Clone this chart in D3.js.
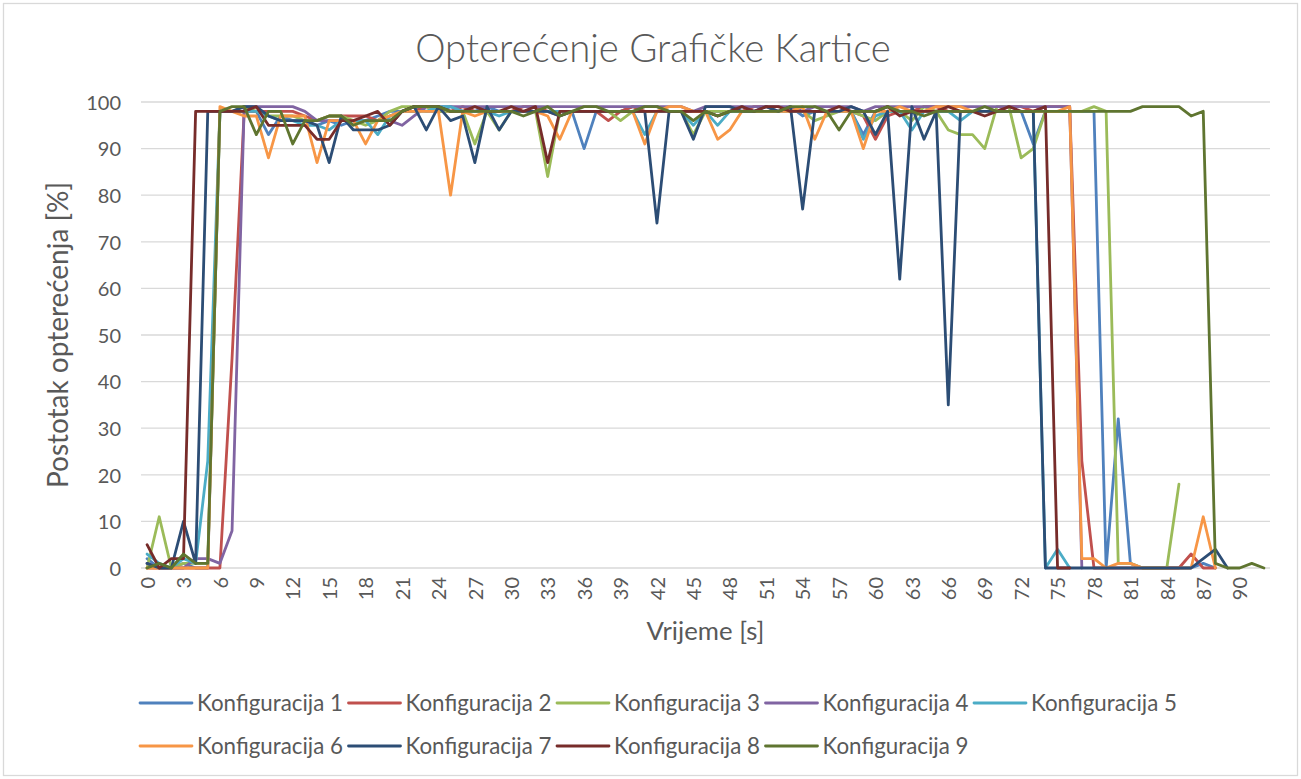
<!DOCTYPE html>
<html>
<head>
<meta charset="utf-8">
<script src="https://cdn.jsdelivr.net/npm/d3@7"></script>
<style>
  html, body { margin: 0; padding: 0; background: #ffffff; }
  svg { display: block; }
  text { font-family: Lato, "Open Sans", sans-serif; fill: #595959; }
</style>
</head>
<body>
<svg id="chart" width="1301" height="779"></svg>
<script>
// Time axis: one sample per second, 0..92 s
const seconds = d3.range(0, 93);
const yTicks = [0, 10, 20, 30, 40, 50, 60, 70, 80, 90, 100];
const seriesNames = [
  "Konfiguracija 1", "Konfiguracija 2", "Konfiguracija 3",
  "Konfiguracija 4", "Konfiguracija 5", "Konfiguracija 6",
  "Konfiguracija 7", "Konfiguracija 8", "Konfiguracija 9"
];
const seriesColors = [
  "#4F81BD", "#C0504D", "#9BBB59", "#8064A2", "#4BACC6",
  "#F79646", "#2C4D75", "#772C2A", "#5F7530"
];

// GPU load [%] per configuration (null = no sample)
const konf1 = [2,0,0,1,0,0,98,98,98,98,93,97,96,96,95,96,95,96,96,97,98,98,99,98,98,99,98,98,99,98,98,98,98,98,98,98,90,98,98,98,99,99,99,98,98,98,98,98,98,99,98,98,98,99,97,98,98,98,98,93,98,99,98,98,98,98,98,98,98,98,98,98,98,91,98,98,98,98,98,0,32,1,0,0,0,0,0,1,0,null,null,null,null];
const konf2 = [0,0,0,0,0,0,0,45,98,98,98,98,98,97,96,97,97,97,97,96,97,98,98,99,98,98,99,98,98,98,98,99,99,98,97,98,98,98,96,98,99,98,98,98,98,98,98,97,98,98,99,99,98,98,98,98,98,98,98,97,92,97,98,98,99,99,98,98,98,98,98,99,99,98,99,99,99,23,0,0,0,0,0,0,0,0,3,0,0,null,null,null,null];
const konf3 = [0,11,0,1,1,1,98,98,99,98,97,97,97,96,96,97,97,96,95,96,98,99,99,99,98,98,98,91,98,94,98,98,98,84,98,98,98,98,98,96,98,98,98,98,98,93,98,98,98,98,98,98,98,98,98,96,97,98,98,97,96,98,98,96,99,98,94,93,93,90,99,99,88,90,98,98,98,98,99,98,1,1,0,0,0,18,null,null,null,null,null,null,null];
const konf4 = [1,0,0,0,2,2,1,8,99,99,99,99,99,98,96,96,96,96,96,96,96,95,97,99,99,99,99,99,99,99,99,99,99,99,99,99,99,99,99,99,99,99,99,99,99,98,99,99,99,99,99,99,99,99,98,99,99,99,99,98,99,99,99,99,99,99,99,99,99,99,99,99,99,99,99,99,99,0,null,null,null,null,null,null,null,null,null,null,null,null,null,null,null];
const konf5 = [3,1,0,2,1,23,98,98,98,98,97,96,96,95,95,94,96,96,96,93,97,98,98,98,99,99,98,98,98,97,98,98,98,98,98,98,98,98,98,98,98,93,98,98,98,95,98,95,98,98,98,98,98,98,98,98,98,98,98,92,97,98,98,94,98,98,98,96,98,98,98,98,98,98,0,4,0,null,null,null,null,null,null,null,null,null,null,null,null,null,null,null,null];
const konf6 = [0,0,0,0,0,0,99,98,97,97,88,97,97,97,87,96,96,96,91,96,97,98,98,98,98,80,98,97,98,98,98,98,98,97,92,98,98,98,98,98,98,91,98,99,99,98,98,92,94,98,98,98,98,98,99,92,98,98,98,90,98,98,99,98,98,99,99,99,98,98,98,98,98,98,98,98,99,2,2,0,1,1,0,0,0,0,0,11,0,null,null,null,null];
const konf7 = [1,0,0,10,1,98,98,98,99,99,97,96,96,96,95,87,97,94,94,94,95,98,99,94,99,96,97,87,99,94,98,98,98,98,97,98,98,98,98,98,98,98,74,98,98,92,99,99,99,98,98,99,98,99,77,98,98,98,99,98,93,98,62,99,92,98,35,98,98,98,98,98,98,98,0,0,0,0,0,0,0,0,0,0,0,0,0,2,4,0,null,null,null];
const konf8 = [5,0,2,2,98,98,98,98,98,99,95,95,95,95,92,92,96,96,97,98,95,98,99,99,99,98,98,99,98,98,99,98,99,87,98,98,98,98,98,98,98,98,98,98,98,98,98,97,98,99,98,99,99,98,98,98,98,99,98,98,98,99,97,98,98,98,99,98,98,97,98,99,98,98,99,0,0,null,null,null,null,null,null,null,null,null,null,null,null,null,null,null,null];
const konf9 = [0,1,0,3,1,1,98,99,99,93,98,98,91,96,96,97,97,95,96,96,96,98,99,99,99,98,98,98,98,98,98,97,98,99,97,98,99,99,98,98,98,99,99,98,98,96,98,97,98,98,98,98,98,99,99,99,98,94,98,98,98,99,98,98,97,98,98,98,98,99,98,98,98,98,98,98,98,98,98,98,98,98,99,99,99,99,97,98,1,0,0,1,0];

const seriesData = [konf1, konf2, konf3, konf4, konf5, konf6, konf7, konf8, konf9];

const svg = d3.select("#chart");
const W = 1301, H = 779;
const plot = { left: 141, right: 1270, top: 102, bottom: 568 };

// chart frame
svg.append("rect")
  .attr("x", 3.5).attr("y", 3.5)
  .attr("width", W - 7).attr("height", H - 7)
  .attr("fill", "#ffffff").attr("stroke", "#D9D9D9").attr("stroke-width", 1.3);

const x = d3.scalePoint().domain(seconds).range([plot.left, plot.right]).padding(0.5);
const y = d3.scaleLinear().domain([0, 100]).range([plot.bottom, plot.top]);

// shrink/grow a text element's font size until it spans the wanted width
function fitWidth(sel, width) {
  const node = sel.node();
  const fs = parseFloat(sel.attr("font-size"));
  const len = node.getComputedTextLength();
  if (len > 0) sel.attr("font-size", (fs * width / len).toFixed(2));
  return sel;
}

// horizontal gridlines
svg.append("g")
  .selectAll("line")
  .data(yTicks)
  .join("line")
  .attr("x1", plot.left).attr("x2", plot.right)
  .attr("y1", d => y(d)).attr("y2", d => y(d))
  .attr("stroke", "#D9D9D9").attr("stroke-width", 1.3);

// y axis labels
const yAxis = svg.append("g")
  .attr("transform", `translate(${plot.left - 20},0)`)
  .call(d3.axisLeft(y).tickValues(yTicks).tickSize(0).tickPadding(0));
yAxis.select(".domain").remove();
yAxis.selectAll("text")
  .attr("font-size", 20)
  .attr("font-family", "Lato")
  .attr("fill", "#595959")
  .attr("dy", "0.36em");

// x axis labels, every third second, rotated
const xAxis = svg.append("g")
  .attr("transform", `translate(0,${plot.bottom})`)
  .call(d3.axisBottom(x).tickValues(seconds.filter(s => s % 3 === 0)).tickSize(0).tickPadding(0));
xAxis.select(".domain").remove();
xAxis.selectAll("text")
  .attr("font-size", 20)
  .attr("font-family", "Lato")
  .attr("fill", "#595959")
  .attr("transform", "rotate(-90)")
  .attr("text-anchor", "end")
  .attr("x", -9)
  .attr("y", 0)
  .attr("dy", "0.36em");

// series lines
const line = d3.line()
  .defined(d => d != null)
  .x((d, i) => x(seconds[i]))
  .y(d => y(d));

svg.append("g")
  .selectAll("path")
  .data(seriesData)
  .join("path")
  .attr("d", d => line(d))
  .attr("fill", "none")
  .attr("stroke", (d, i) => seriesColors[i])
  .attr("stroke-width", 2.8)
  .attr("stroke-linejoin", "round")
  .attr("stroke-linecap", "round");

// title
const title = svg.append("text")
  .attr("x", 653).attr("y", 62)
  .attr("text-anchor", "middle")
  .attr("font-size", 34)
  .attr("font-family", "Lato")
  .attr("font-weight", 300)
  .text("Opterećenje Grafičke Kartice");
fitWidth(title, 476);

// axis titles
const yTitle = svg.append("text")
  .attr("transform", `translate(68,${(plot.top + plot.bottom) / 2}) rotate(-90)`)
  .attr("text-anchor", "middle")
  .attr("font-size", 22)
  .text("Postotak opterećenja [%]");
fitWidth(yTitle, 306);

const xTitle = svg.append("text")
  .attr("x", (plot.left + plot.right) / 2)
  .attr("y", 640)
  .attr("text-anchor", "middle")
  .attr("font-size", 22)
  .text("Vrijeme [s]");
fitWidth(xTitle, 118);

// legend: two rows, five items per row
const legend = svg.append("g");
const itemStep = 208.5;
seriesNames.forEach((name, i) => {
  const row = Math.floor(i / 5), col = i % 5;
  const gx = 140 + col * itemStep;
  const gy = 703 + row * 43;
  const g = legend.append("g").attr("transform", `translate(${gx},${gy})`);
  g.append("line")
    .attr("x1", 0).attr("x2", 52).attr("y1", 0).attr("y2", 0)
    .attr("stroke", seriesColors[i]).attr("stroke-width", 2.8)
    .attr("stroke-linecap", "round");
  const t = g.append("text")
    .attr("x", 57).attr("y", 0).attr("dy", "0.36em")
    .attr("font-size", 21)
    .text(name);
  fitWidth(t, 146);
});
</script>
</body>
</html>
